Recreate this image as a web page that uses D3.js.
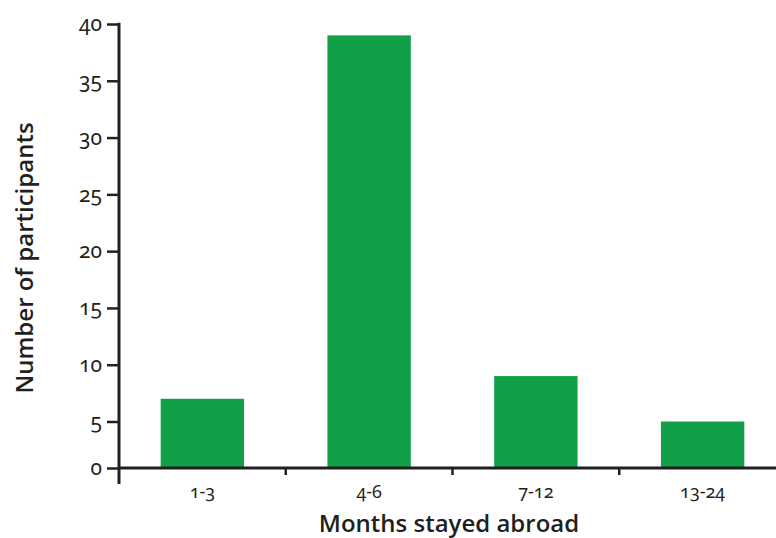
<!DOCTYPE html>
<html>
<head>
<meta charset="utf-8">
<script src="https://cdn.jsdelivr.net/npm/d3@7"></script>
<style>
  html, body { margin: 0; padding: 0; background: #fff; }
  svg { display: block; }
  text { font-family: "Noto Sans", "Open Sans", sans-serif; fill: #231f20; font-variant-numeric: oldstyle-nums; font-feature-settings: "onum" 1; }
  .title { font-family: "Open Sans", "Noto Sans", sans-serif; }
</style>
</head>
<body>
<svg id="chart" width="776" height="538"></svg>
<script>
const categories = ["1-3", "4-6", "7-12", "13-24"];
const participants = [7, 39, 9, 5];
const yTicks = [0, 5, 10, 15, 20, 25, 30, 35, 40];
const xTitle = "Months stayed abroad";
const yTitle = "Number of participants";

const svg = d3.select("#chart");
const ink = "#231f20";
const green = "#119f48";

const x = d3.scaleBand().domain(categories).range([119, 786]).paddingInner(0.5).paddingOuter(0.25);
const y = d3.scaleLinear().domain([0, 5, 40]).range([468, 421.5, 24]);

// bars
svg.append("g").selectAll("rect").data(categories).join("rect")
  .attr("x", d => x(d))
  .attr("width", x.bandwidth())
  .attr("y", (d, i) => y(participants[i]))
  .attr("height", (d, i) => y(0) - y(participants[i]))
  .attr("fill", green);

// y axis
const yAxis = d3.axisLeft(y).tickValues(yTicks).tickSize(12).tickSizeOuter(0).tickPadding(5).tickFormat(d3.format("d"));
const gy = svg.append("g").attr("transform", "translate(119,0)").call(yAxis);
gy.select(".domain").remove();
gy.selectAll(".tick line").attr("stroke", ink).attr("stroke-width", 2.5);
gy.selectAll(".tick text").attr("font-size", 21).attr("fill", ink);
gy.append("line").attr("x1", 0).attr("x2", 0).attr("y1", y(40) - 1.2).attr("y2", 484)
  .attr("stroke", ink).attr("stroke-width", 3);

// x axis
const xAxis = d3.axisBottom(x).tickSize(0).tickPadding(17);
const gx = svg.append("g").attr("transform", `translate(0,${y(0)})`).call(xAxis);
gx.select(".domain").remove();
gx.selectAll(".tick text").attr("font-size", 18).attr("fill", ink);
gx.append("line").attr("x1", 119).attr("x2", 786).attr("y1", 0).attr("y2", 0)
  .attr("stroke", ink).attr("stroke-width", 3);
// boundary ticks between categories
const boundary = d => x(d) - (x.step() - x.bandwidth()) / 2;
gx.selectAll(".bound").data(categories.slice(1)).join("line")
  .attr("class", "bound")
  .attr("x1", boundary).attr("x2", boundary)
  .attr("y1", 0).attr("y2", 7)
  .attr("stroke", ink).attr("stroke-width", 2.5);

// titles
svg.append("text").attr("class", "title")
  .attr("x", 449).attr("y", 532)
  .attr("text-anchor", "middle")
  .attr("font-size", 24).attr("font-weight", 600)
  .text(xTitle);

svg.append("text").attr("class", "title")
  .attr("transform", "translate(33,258) rotate(-90)")
  .attr("text-anchor", "middle")
  .attr("font-size", 24).attr("font-weight", 600)
  .text(yTitle);
</script>
</body>
</html>
